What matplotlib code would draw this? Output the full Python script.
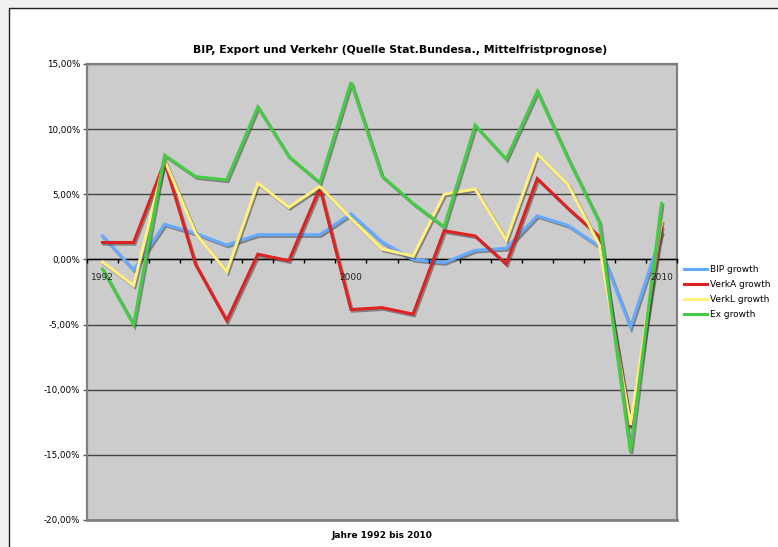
import matplotlib
matplotlib.use('Agg')
import matplotlib.pyplot as plt
import matplotlib.patheffects as pe
from matplotlib.patches import Rectangle
from matplotlib.ticker import FuncFormatter, MultipleLocator
import numpy as np

# Daten (Wachstum in %)
years = list(range(1992, 2011))
year_labels = ['1992', '', '', '', '', '', '', '', '2000', '', '', '', '', '', '', '', '', '', '2010']
bip = [1.8, -0.8, 2.7, 2.0, 1.1, 1.9, 1.9, 1.9, 3.5, 1.35, 0.0, -0.25, 0.7, 0.85, 3.35, 2.6, 1.0, -5.2, 2.0]
verka = [1.3, 1.3, 7.5, -0.4, -4.7, 0.4, -0.1, 5.5, -3.85, -3.7, -4.2, 2.2, 1.8, -0.35, 6.2, 3.9, 1.75, -12.9, 2.4]
verkl = [-0.2, -2.0, 7.6, 2.0, -0.95, 5.85, 4.0, 5.6, 3.15, 0.8, 0.25, 5.0, 5.4, 1.5, 8.1, 5.7, 1.1, -12.7, 2.9]
ex = [-0.75, -5.0, 8.0, 6.35, 6.1, 11.7, 7.9, 5.9, 13.6, 6.4, 4.3, 2.5, 10.3, 7.7, 12.9, 7.7, 2.85, -14.8, 4.3]

series = [('BIP growth', bip, '#66aaff'),
          ('VerkA growth', verka, '#dd2222'),
          ('VerkL growth', verkl, '#fff080'),
          ('Ex growth', ex, '#44cc44')]

W, H = 778, 547
fig = plt.figure(figsize=(W/100, H/100), dpi=100)
fig.patch.set_facecolor('#f0f0f0')
# weisser Diagrammbereich mit Rahmen
fig.patches.append(Rectangle((9/W, -0.1), 1.2, 1.1 - 8/H, transform=fig.transFigure,
                             facecolor='white', edgecolor='#222222', lw=1.0, zorder=-10))

ax = fig.add_axes([87/W, 1-520/H, 590/W, 456/H])
ax.set_facecolor('#cccccc')
x = np.arange(len(years))

for name, vals, col in series:
    ax.plot(x, vals, color=col, lw=2.2, label=name, solid_joinstyle='miter',
            path_effects=[pe.SimpleLineShadow(offset=(1.0, -1.2), shadow_color='#444444', alpha=0.55),
                          pe.Normal()], zorder=3)

ax.set_xlim(-0.5, len(years) - 0.5)
ax.set_ylim(-20, 15)
ax.yaxis.set_major_locator(MultipleLocator(5))
ax.yaxis.set_major_formatter(FuncFormatter(lambda v, p: f'{v:.2f}%'.replace('.', ',')))
ax.yaxis.grid(True, color='#444444', lw=1.0, zorder=1)
ax.set_axisbelow(True)

ax.spines['bottom'].set_position(('data', 0))
ax.spines['bottom'].set_color('black')
ax.spines['bottom'].set_linewidth(1.0)
for s in ['left', 'right', 'top']:
    ax.spines[s].set_color('#808080')
    ax.spines[s].set_linewidth(1.6)
ax.axhline(-20, color='#808080', lw=2.0, zorder=2, clip_on=False)

ax.set_xticks(x)
ax.set_xticklabels(year_labels)
ax.tick_params(axis='x', which='major', length=0, pad=10, labelsize=6.5, labelcolor='#222222')
ax.set_xticks(np.arange(len(years) + 1) - 0.5, minor=True)
ax.tick_params(axis='x', which='minor', length=3, width=1, color='black', direction='out')
ax.tick_params(axis='y', length=3, width=1, color='#555555', labelsize=6.3, pad=2)
ax.xaxis.set_zorder(5)

fig.text(400/W, 1-50/H, 'BIP, Export und Verkehr (Quelle Stat.Bundesa., Mittelfristprognose)',
         ha='center', va='center', fontsize=7.8, fontweight='bold')
fig.text(382/W, 1-535/H, 'Jahre 1992 bis 2010', ha='center', va='center',
         fontsize=6.5, fontweight='bold')

leg = ax.legend(loc='center left', bbox_to_anchor=(680/W, 1-292/H), bbox_transform=fig.transFigure,
                frameon=False, fontsize=6.5, handlelength=2.6, handletextpad=0.3, labelspacing=0.68,
                borderaxespad=0)
for line in leg.get_lines():
    line.set_path_effects([])
    line.set_linewidth(2.2)

fig.savefig('out.png', dpi=100, facecolor=fig.get_facecolor())
